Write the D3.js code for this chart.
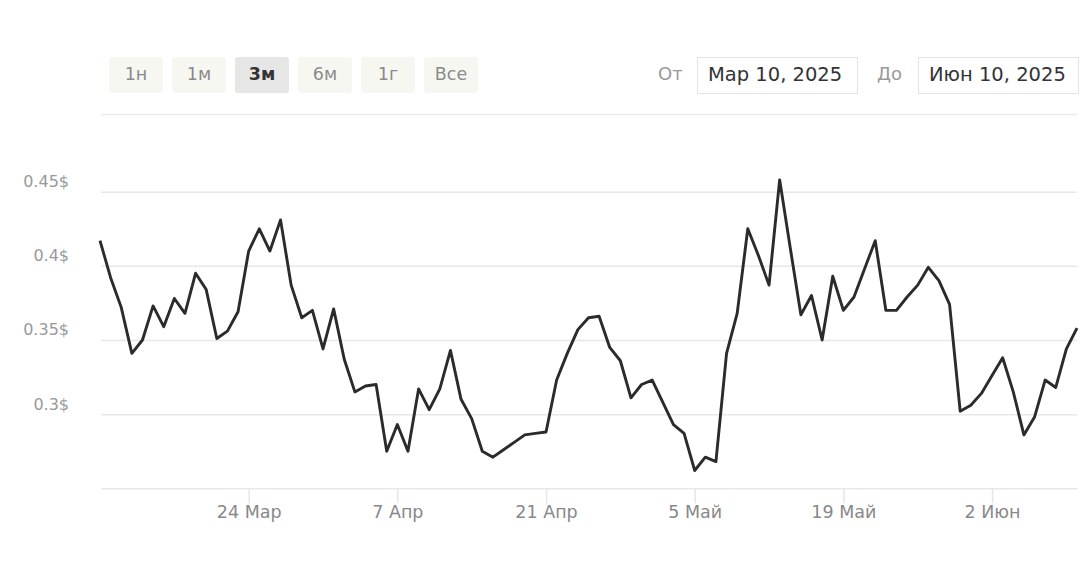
<!DOCTYPE html>
<html>
<head>
<meta charset="utf-8">
<script src="https://cdn.jsdelivr.net/npm/d3@7"></script>
<style>
  html, body { margin: 0; padding: 0; background: #fff; }
  svg { display: block; font-family: "DejaVu Sans", sans-serif; }
</style>
</head>
<body>
<script>
// range buttons and date pickers
var rangeButtons = ["1н", "1м", "3м", "6м", "1г", "Все"];
var activeButton = "3м";
var fromLabel = "От", toLabel = "До";
var fromDate = "Мар 10, 2025", toDate = "Июн 10, 2025";

// daily price, Mar 10 .. Jun 10 2025
var startDay = new Date(2025, 2, 10);
var endDay = new Date(2025, 5, 10);
var prices = [
  0.417, 0.392, 0.372, 0.341, 0.350, 0.373, 0.359, 0.378, 0.368, 0.395,
  0.384, 0.351, 0.356, 0.369, 0.410, 0.425, 0.410, 0.431, 0.387, 0.365,
  0.370, 0.344, 0.371, 0.337, 0.315, 0.319, 0.320, 0.275, 0.293, 0.275,
  0.317, 0.303, 0.317, 0.343, 0.310, 0.297, 0.275, 0.271, 0.276, 0.281,
  0.286, 0.287, 0.288, 0.323, 0.341, 0.357, 0.365, 0.366, 0.345, 0.336,
  0.311, 0.320, 0.323, 0.308, 0.293, 0.287, 0.262, 0.271, 0.268, 0.341,
  0.368, 0.425, 0.407, 0.387, 0.458, 0.412, 0.367, 0.380, 0.350, 0.393,
  0.370, 0.379, 0.398, 0.417, 0.370, 0.370, 0.379, 0.387, 0.399, 0.390,
  0.374, 0.302, 0.306, 0.314, 0.326, 0.338, 0.315, 0.286, 0.298, 0.323,
  0.318, 0.344, 0.358
];
var yTicks = [0.25, 0.3, 0.35, 0.4, 0.45];
var xTicks = [new Date(2025, 2, 24), new Date(2025, 3, 7), new Date(2025, 3, 21),
              new Date(2025, 4, 5), new Date(2025, 4, 19), new Date(2025, 5, 2)];
var monthNames = ["Янв", "Фев", "Мар", "Апр", "Май", "Июн", "Июл", "Авг", "Сен", "Окт", "Ноя", "Дек"];

var days = d3.timeDay.range(startDay, d3.timeDay.offset(endDay, 1));
var data = prices.map(function(p, i) { return { date: days[i], value: p }; });

var width = 1090, height = 572;
var svg = d3.select("body").append("svg")
  .attr("width", width)
  .attr("height", height);

// buttons
var btn = svg.append("g").selectAll("g")
  .data(rangeButtons)
  .enter().append("g")
  .attr("transform", function(d, i) { return "translate(" + (109 + i * 63) + ",57)"; });
btn.append("rect")
  .attr("width", 54).attr("height", 36).attr("rx", 3)
  .attr("fill", function(d) { return d == activeButton ? "#e6e6e6" : "#f7f7f2"; });
btn.append("text")
  .attr("x", 27).attr("y", 17).attr("dy", "0.36em")
  .attr("text-anchor", "middle")
  .style("font-size", "17.5px")
  .style("font-weight", function(d) { return d == activeButton ? "bold" : "normal"; })
  .attr("fill", function(d) { return d == activeButton ? "#333" : "#8a8a8a"; })
  .text(function(d) { return d; });

// date inputs
function dateBox(label, lx, bx, txt) {
  svg.append("text").attr("x", lx).attr("y", 74).attr("dy", "0.36em")
    .style("font-size", "18px").attr("fill", "#999").text(label);
  svg.append("rect").attr("x", bx + 0.5).attr("y", 57.5).attr("width", 160).attr("height", 36)
    .attr("fill", "#fff").attr("stroke", "#e3e3e6");
  svg.append("text").attr("x", bx + 11).attr("y", 74).attr("dy", "0.36em")
    .style("font-size", "19.5px").attr("fill", "#333").text(txt);
}
dateBox(fromLabel, 658, 697, fromDate);
dateBox(toLabel, 877, 918, toDate);

// separator under the toolbar
svg.append("line")
  .attr("x1", 101).attr("x2", 1077).attr("y1", 114.5).attr("y2", 114.5)
  .attr("stroke", "#ececef").attr("stroke-width", 1.5);

var x = d3.scaleTime().domain([startDay, endDay]).range([100, 1077]);
var y = d3.scaleLinear().domain([0.25, 0.45]).range([488.3, 191.7]);

// grid + y labels
var yAxis = d3.axisLeft(y)
  .tickValues(yTicks)
  .tickSize(-(1077 - 101))
  .tickPadding(0)
  .tickFormat(function(v) { return v == 0.25 ? "" : (+v.toFixed(2)) + "$"; });
var gy = svg.append("g").attr("transform", "translate(101,0)").call(yAxis);
gy.select(".domain").remove();
gy.selectAll(".tick line").attr("stroke", "#e8e8ec").attr("stroke-width", 1.5);
gy.selectAll(".tick text")
  .attr("x", -32).attr("dy", "-0.32em")
  .style("font-size", "16px").style("font-family", "DejaVu Sans")
  .attr("fill", "#999");

// x axis
var xAxis = d3.axisBottom(x)
  .tickValues(xTicks)
  .tickSize(15)
  .tickPadding(4)
  .tickFormat(function(d) { return d.getDate() + " " + monthNames[d.getMonth()]; });
var gx = svg.append("g").attr("transform", "translate(0,488.3)").call(xAxis);
gx.select(".domain").remove();
gx.selectAll(".tick line").attr("stroke", "#e6e6ea").attr("stroke-width", 1.5);
gx.selectAll(".tick text")
  .attr("y", 17).attr("dy", "0.71em")
  .style("font-size", "17.5px").style("font-family", "DejaVu Sans")
  .attr("fill", "#888");

// price line
var line = d3.line()
  .x(function(d) { return x(d.date); })
  .y(function(d) { return y(d.value); });
svg.append("path")
  .datum(data)
  .attr("fill", "none")
  .attr("stroke", "#2b2b2b")
  .attr("stroke-width", 2.9)
  .attr("stroke-linejoin", "round")
  .attr("d", line);
</script>
</body>
</html>
